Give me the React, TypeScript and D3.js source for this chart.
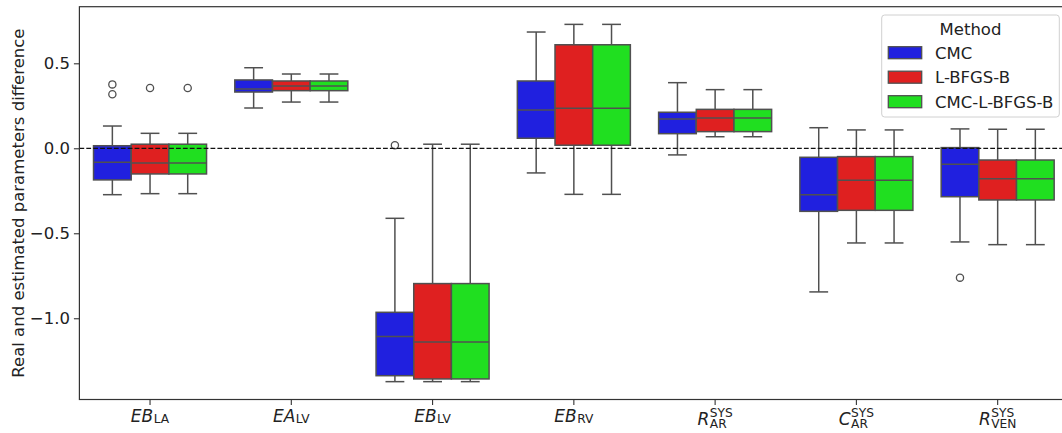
import { useEffect, useRef } from "react";
import * as d3 from "d3";

// categories on the x axis: main symbol, subscript, superscript
const categories = ["EB_LA", "EA_LV", "EB_LV", "EB_RV", "R_AR", "C_AR", "R_VEN"];
const labelMain = ["EB", "EA", "EB", "EB", "R", "C", "R"];
const labelSub = ["LA", "LV", "LV", "RV", "AR", "AR", "VEN"];
const labelSup = ["", "", "", "", "SYS", "SYS", "SYS"];

const methods = ["CMC", "L-BFGS-B", "CMC-L-BFGS-B"];
const methodColors = ["#2020df", "#df2020", "#20df20"];

// [whisker low, q1, median, q3, whisker high] per category
const statsCMC = [
  [-0.273, -0.186, -0.082, 0.015, 0.131],
  [0.237, 0.331, 0.349, 0.402, 0.474],
  [-1.373, -1.338, -1.108, -0.965, -0.412],
  [-0.145, 0.059, 0.225, 0.396, 0.684],
  [-0.039, 0.086, 0.172, 0.212, 0.386],
  [-0.845, -0.371, -0.273, -0.053, 0.121],
  [-0.551, -0.285, -0.094, 0.004, 0.114],
];
const statsLBFGSB = [
  [-0.267, -0.151, -0.086, 0.024, 0.088],
  [0.272, 0.339, 0.366, 0.396, 0.437],
  [-1.373, -1.357, -1.139, -0.796, 0.024],
  [-0.271, 0.018, 0.235, 0.609, 0.729],
  [0.068, 0.098, 0.178, 0.229, 0.345],
  [-0.557, -0.365, -0.188, -0.049, 0.108],
  [-0.567, -0.304, -0.179, -0.069, 0.112],
];
const statsHybrid = [
  [-0.267, -0.151, -0.086, 0.024, 0.088],
  [0.272, 0.339, 0.366, 0.396, 0.437],
  [-1.373, -1.357, -1.139, -0.796, 0.024],
  [-0.271, 0.018, 0.235, 0.609, 0.729],
  [0.068, 0.098, 0.178, 0.229, 0.345],
  [-0.557, -0.365, -0.188, -0.049, 0.108],
  [-0.567, -0.304, -0.179, -0.069, 0.112],
];

// fliers per category
const outliersCMC = [[0.376, 0.318], [], [0.018], [], [], [], [-0.761]];
const outliersLBFGSB = [[0.355], [], [], [], [], [], []];
const outliersHybrid = [[0.355], [], [], [], [], [], []];

const yTicks = [-1.0, -0.5, 0.0, 0.5];

const W = 1062;
const H = 433;
const FONT = "DejaVu Sans, sans-serif";
const FS = 16.5;

export default function App() {
  const ref = useRef<SVGSVGElement>(null);

  useEffect(() => {
    const svg = d3.select(ref.current);
    svg.selectAll("*").remove();

    const left = 79.4, right = 1068.3, top = 6.7, bottom = 399.5;

    const x = d3.scaleBand().domain(categories).range([left, right]).padding(0);
    const y = d3.scaleLinear().domain([-1.478, 0.833]).range([bottom, top]);
    const bw = x.bandwidth();
    const inner = d3.scaleBand().domain(methods).range([-0.4 * bw, 0.4 * bw]).padding(0);
    const boxW = inner.bandwidth();

    const allStats = [statsCMC, statsLBFGSB, statsHybrid];
    const allOut = [outliersCMC, outliersLBFGSB, outliersHybrid];
    const lineCol = "#505050";

    // boxes
    const plot = svg.append("g");
    methods.forEach((m, mi) => {
      categories.forEach((c, ci) => {
        const [lo, q1, med, q3, hi] = allStats[mi][ci];
        const cx = x(c)! + bw / 2 + inner(m)! + boxW / 2;
        const g = plot.append("g");
        g.append("line").attr("x1", cx).attr("x2", cx).attr("y1", y(q3)).attr("y2", y(hi))
          .attr("stroke", lineCol).attr("stroke-width", 1.5);
        g.append("line").attr("x1", cx).attr("x2", cx).attr("y1", y(q1)).attr("y2", y(lo))
          .attr("stroke", lineCol).attr("stroke-width", 1.5);
        [lo, hi].forEach((v) => {
          g.append("line").attr("x1", cx - boxW / 4).attr("x2", cx + boxW / 4)
            .attr("y1", y(v)).attr("y2", y(v))
            .attr("stroke", lineCol).attr("stroke-width", 1.5);
        });
        g.append("rect").attr("x", cx - boxW / 2).attr("width", boxW)
          .attr("y", y(q3)).attr("height", y(q1) - y(q3))
          .attr("fill", methodColors[mi]).attr("stroke", lineCol).attr("stroke-width", 1.5);
        g.append("line").attr("x1", cx - boxW / 2).attr("x2", cx + boxW / 2)
          .attr("y1", y(med)).attr("y2", y(med))
          .attr("stroke", lineCol).attr("stroke-width", 1.5);
        allOut[mi][ci].forEach((v) => {
          g.append("circle").attr("cx", cx).attr("cy", y(v)).attr("r", 3.6)
            .attr("fill", "none").attr("stroke", lineCol).attr("stroke-width", 1.3);
        });
      });
    });

    // zero reference
    svg.append("line").attr("x1", left).attr("x2", right).attr("y1", y(0)).attr("y2", y(0))
      .attr("stroke", "#111").attr("stroke-width", 1.3).attr("stroke-dasharray", "4.8,2.1");

    // frame
    svg.append("rect").attr("x", left).attr("y", top).attr("width", right - left).attr("height", bottom - top)
      .attr("fill", "none").attr("stroke", "#333").attr("stroke-width", 1.2);

    // y axis
    const yAxis = svg.append("g").attr("transform", `translate(${left},0)`)
      .call(d3.axisLeft(y).tickValues(yTicks).tickSize(5.5).tickPadding(4)
        .tickFormat((d) => d3.format(".1f")(d as number).replace("-", "\u2212")));
    yAxis.select(".domain").remove();
    yAxis.selectAll("line").attr("stroke", "#333").attr("stroke-width", 1.1);
    yAxis.selectAll("text").attr("font-family", FONT).attr("font-size", FS).attr("fill", "#222");

    // x axis ticks
    const xAxis = svg.append("g").attr("transform", `translate(0,${bottom})`)
      .call(d3.axisBottom(x).tickSize(5.5).tickFormat(() => ""));
    xAxis.select(".domain").remove();
    xAxis.selectAll("line").attr("stroke", "#333").attr("stroke-width", 1.1);

    // x tick labels with sub/superscripts
    categories.forEach((c, i) => {
      const cx = x(c)! + bw / 2;
      const hasSup = labelSup[i] !== "";
      const base = hasSup ? 425 : 421.7;
      const g = svg.append("g");
      const main = g.append("text").attr("x", 0).attr("y", base)
        .attr("font-family", FONT).attr("font-size", FS * 1.03).attr("font-style", "italic")
        .attr("fill", "#222").text(labelMain[i]);
      const mw = (main.node() as SVGTextElement).getComputedTextLength();
      const sub = g.append("text").attr("x", mw + 0.5).attr("y", base + (hasSup ? 3.3 : 1.6))
        .attr("font-family", FONT).attr("font-size", FS * 0.74).attr("fill", "#222").text(labelSub[i]);
      let w = mw + 0.5 + (sub.node() as SVGTextElement).getComputedTextLength();
      if (hasSup) {
        const sup = g.append("text").attr("x", mw + 0.5).attr("y", base - 8.3)
          .attr("font-family", FONT).attr("font-size", FS * 0.74).attr("fill", "#222").text(labelSup[i]);
        w = Math.max(w, mw + 0.5 + (sup.node() as SVGTextElement).getComputedTextLength());
      }
      g.attr("transform", `translate(${cx - w / 2},0)`);
    });

    // y label
    svg.append("text").attr("transform", `translate(23.5,${(top + bottom) / 2}) rotate(-90)`)
      .attr("text-anchor", "middle").attr("font-family", FONT).attr("font-size", FS).attr("fill", "#222")
      .text("Real and estimated parameters difference");

    // legend
    const lg = svg.append("g");
    lg.append("rect").attr("x", 881.7).attr("y", 15).attr("width", 177.6).attr("height", 102)
      .attr("rx", 3).attr("fill", "white").attr("fill-opacity", 0.85).attr("stroke", "#d0d0d0").attr("stroke-width", 1);
    lg.append("text").attr("x", 970.5).attr("y", 35).attr("text-anchor", "middle")
      .attr("font-family", FONT).attr("font-size", FS).attr("fill", "#222").text("Method");
    methods.forEach((m, i) => {
      const cy = 52.7 + i * 24.5;
      lg.append("rect").attr("x", 888.3).attr("y", cy - 6).attr("width", 33.4).attr("height", 12)
        .attr("fill", methodColors[i]).attr("stroke", lineCol).attr("stroke-width", 1.3);
      lg.append("text").attr("x", 935).attr("y", cy + 6.2)
        .attr("font-family", FONT).attr("font-size", FS).attr("fill", "#222").text(m);
    });
  }, []);

  return (
    <svg ref={ref} width={W} height={H}
      style={{ position: "absolute", left: 0, top: 0, background: "white" }} />
  );
}
